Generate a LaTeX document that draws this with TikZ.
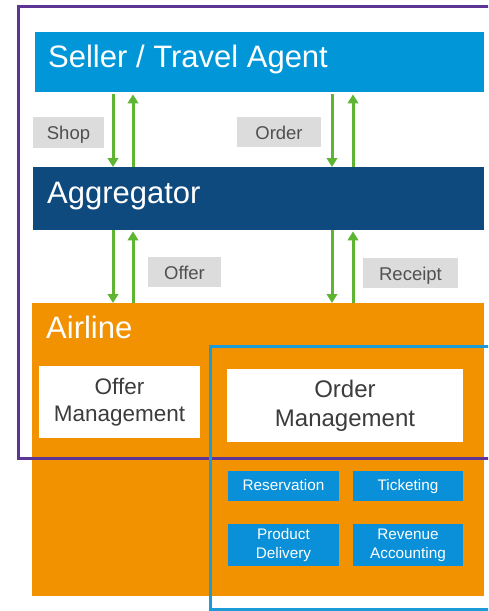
\documentclass[tikz,border=0pt]{standalone}
\usepackage{fontspec}
\setmainfont{Liberation Sans}
\usetikzlibrary{arrows.meta,calc}
\definecolor{sellerblue}{HTML}{0096D8}
\definecolor{aggnavy}{HTML}{0F4A7F}
\definecolor{airorange}{HTML}{F29200}
\definecolor{arrowgreen}{HTML}{5DB532}
\definecolor{labelgray}{HTML}{DCDCDC}
\definecolor{labeltext}{HTML}{505050}
\definecolor{darktext}{HTML}{3C3C3C}
\definecolor{smallblue}{HTML}{0A90D8}
\definecolor{framepurple}{HTML}{5E3494}
\definecolor{frameblue}{HTML}{1C9BD9}
\begin{document}
\begin{tikzpicture}[x=1pt,y=-1pt,
  band/.style={draw=none, anchor=north west, inner sep=0pt},
  bandtext/.style={anchor=base west, text=white, font=\fontsize{31}{36}\selectfont, inner sep=0pt},
  tag/.style={fill=labelgray, text=labeltext, inner sep=0pt, text height=15pt, text depth=0.5pt, font=\fontsize{18.5}{20}\selectfont},
  whitebox/.style={fill=white, text=darktext, inner sep=0pt, align=center},
  smallbox/.style={fill=smallblue, text=white, inner sep=0pt, align=center, minimum width=111pt, font=\fontsize{15.3}{19}\selectfont},
  oneline/.style={text height=10.8pt, text depth=1.2pt},
  flow/.style={draw=arrowgreen, line width=3pt, -{Triangle[width=10.5pt,length=9pt]}},
  frame/.style={line width=3pt}
]
\useasboundingbox (0,0) rectangle (488,611);
\clip (0,0) rectangle (488,611);
\fill[white] (0,0) rectangle (488,611);

% bands
\node[band, fill=sellerblue, minimum width=449pt, minimum height=60pt] (seller) at (35,32) {};
\node[bandtext] (sellertext) at (48,67) {Seller / Travel Agent};
\node[band, fill=aggnavy, minimum width=451pt, minimum height=63pt] (agg) at (33,167) {};
\node[bandtext] (aggtext) at (47,203) {Aggregator};
\node[band, fill=airorange, minimum width=452pt, minimum height=293pt] (airline) at (32,303) {};
\node[bandtext] (airtext) at (46,338) {Airline};

% message tags
\node[tag, minimum width=71pt, minimum height=31pt] (shop) at (68.5,132.5) {Shop};
\node[tag, minimum width=84pt, minimum height=30pt] (order) at (279,132) {Order};
\node[tag, minimum width=73pt, minimum height=30pt] (offer) at (184.5,272) {Offer};
\node[tag, minimum width=95pt, minimum height=30pt] (receipt) at (410.5,273) {Receipt};

% x positions of arrows
\coordinate (xa) at (113,0);
\coordinate (xb) at (133,0);
\coordinate (xc) at (332,0);
\coordinate (xd) at (353,0);

\draw[flow, shorten <=2pt] (seller.south -| xa) -- (agg.north -| xa);
\draw[flow, shorten >=2pt] (agg.north -| xb) -- (seller.south -| xb);
\draw[flow, shorten <=2pt] (seller.south -| xc) -- (agg.north -| xc);
\draw[flow, shorten >=2pt] (agg.north -| xd) -- (seller.south -| xd);
\draw[flow] (agg.south -| xa) -- (airline.north -| xa);
\draw[flow, shorten >=1pt] (airline.north -| xb) -- (agg.south -| xb);
\draw[flow] (agg.south -| xc) -- (airline.north -| xc);
\draw[flow, shorten >=1pt] (airline.north -| xd) -- (agg.south -| xd);

% management boxes
\node[whitebox, minimum width=161pt, minimum height=72pt, font=\fontsize{22.5}{27}\selectfont] (offermgmt) at (119.5,402) {Offer\\Management};
\node[whitebox, minimum width=236pt, minimum height=73pt, font=\fontsize{24}{29}\selectfont] (ordermgmt) at (345,405.5) {Order\\Management};

% small boxes
\node[smallbox, oneline, minimum height=30pt] (reservation) at (283.5,486) {Reservation};
\node[smallbox, oneline, minimum width=110pt, minimum height=30pt] (ticketing) at (408,486) {Ticketing};
\node[smallbox, minimum height=42pt] (delivery) at (283.5,545) {Product\\Delivery};
\node[smallbox, minimum width=110pt, minimum height=42pt] (revenue) at (408,545) {Revenue\\Accounting};

% frames
\draw[frame, draw=framepurple] (18,6) rectangle (510,458);
\draw[frame, draw=frameblue] (210,346) rectangle (510,609);
\end{tikzpicture}
\end{document}
